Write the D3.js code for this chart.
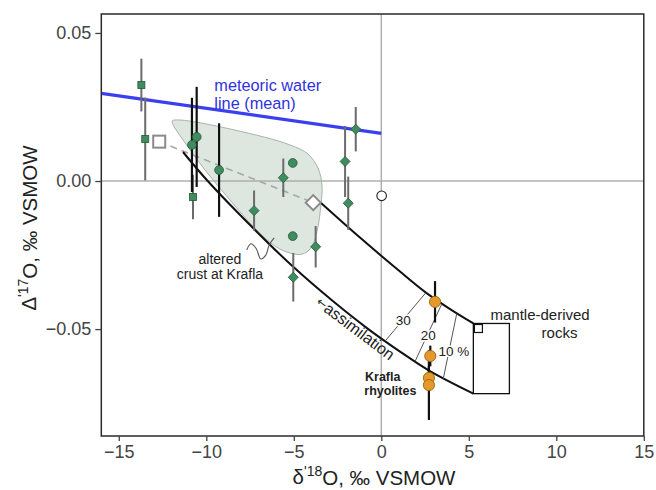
<!DOCTYPE html>
<html><head><meta charset="utf-8">
<script src="https://cdn.jsdelivr.net/npm/d3@7"></script>
<style>
html,body{margin:0;padding:0;background:#fff;}
svg{display:block;font-family:"Liberation Sans",Arial,Helvetica,sans-serif;}
</style></head>
<body><svg id="c" width="656" height="490"></svg>
<script>
// ---------- data (x = δ'18O ‰, y = Δ'17O ‰) ----------
const xDomain = [-16, 15];
const yDomain = [-0.0861, 0.0564];
const xTicks = [-15, -10, -5, 0, 5, 10, 15];
const yTicks = [-0.05, 0, 0.05];

// green circles with black error bars
const greenCircles = [
  {x:-10.82, y: 0.0122, e:0.0159},
  {x:-10.55, y: 0.0149, e:0.0169},
  {x: -9.27, y: 0.0037, e:0.0158},
  {x: -5.06, y: 0.0061, e:0},
  {x: -5.06, y:-0.0186, e:0}
];
// green diamonds with grey error bars
const greenDiamonds = [
  {x:-5.60, y: 0.0011, e:0.0065},
  {x:-7.27, y:-0.0100, e:0.0068},
  {x:-3.75, y:-0.0222, e:0.0070},
  {x:-5.03, y:-0.0325, e:0.0082},
  {x:-1.46, y: 0.0175, e:0.0075},
  {x:-2.07, y: 0.0066, e:0.0120},
  {x:-1.89, y:-0.0075, e:0.0090}
];
// green squares with grey error bars
const greenSquares = [
  {x:-13.71, y: 0.0324, e:0.0089},
  {x:-13.49, y: 0.0142, e:0.0140},
  {x:-10.76, y:-0.0054, e:0.0075}
];
// Krafla rhyolites (orange)
const rhyolites = [
  {x:3.07, y:-0.0408, e:0.0070},
  {x:2.80, y:-0.0591, e:0.0035},
  {x:2.72, y:-0.0665, e:0.0040},
  {x:2.72, y:-0.0689, e:0.0118}
];
const openCircle = [{x:0.02, y:-0.0050}];
const endSquare = [{x:-12.69, y:0.0133}];
const endDiamond = [{x:-3.89, y:-0.0073}];
const mantleSquare = [{x:5.55, y:-0.0498}];
const mantleBox = {x0:5.26, x1:7.32, y0:-0.0718, y1:-0.0481};

const meteoricLine = [{x:-16, y:0.0296}, {x:0, y:0.0161}];

const alteredCrust = [
  [-11.95,0.0203],[-11.5,0.0206],[-8.36,0.0172],[-5.22,0.0122],[-4.19,0.0091],
  [-3.62,0.0044],[-3.39,-0.0014],[-3.45,-0.0081],[-3.68,-0.0172],[-4.02,-0.0226],
  [-4.53,-0.0247],[-5.22,-0.0243],[-6.07,-0.0220],[-7.22,-0.0159],[-8.65,-0.0064],
  [-10.07,0.0037],[-11.33,0.0139],[-11.89,0.0189]
];

const upperMixing = [
  [-3.46,-0.00733],[-1.22,-0.01909],[1.07,-0.03057],[2.55,-0.03767],[3.93,-0.04324],[5.26,-0.04807]
];
const lowerMixing = [
  [-11.33,0.0098],[-9.97,0.00034],[-7.50,-0.01486],[-5.05,-0.02889],[-2.77,-0.04054],
  [-0.82,-0.04966],[1.07,-0.0576],[2.78,-0.0642],[5.26,-0.0718]
];
const tieLines = [
  {label:"30",   a:[2.55,-0.0377], b:[0.21,-0.0541], lx:1.26, ly:-0.0470},
  {label:"20",   a:[3.45,-0.0416], b:[1.93,-0.0609], lx:2.69, ly:-0.0520},
  {label:"10 %", a:[4.31,-0.0448], b:[3.54,-0.0668], lx:4.15, ly:-0.0574}
];
const squiggle = [
  [-7.69,-0.0233],[-7.45,-0.0212],[-7.15,-0.0228],[-6.89,-0.0263],
  [-6.60,-0.0250],[-6.40,-0.0215],[-6.12,-0.0192]
];

// ---------- drawing ----------
const svg = d3.select("#c");
const x = d3.scaleLinear().domain(xDomain).range([101.3, 643.8]);
const y = d3.scaleLinear().domain(yDomain).range([436, 14]);

const green = "#3f8d5e", greenStroke = "#24583a";
const orange = "#e39a2a", orangeStroke = "#9a6412";

svg.append("rect").attr("width",656).attr("height",490).attr("fill","#fff");

// altered crust field
svg.append("path")
  .datum(alteredCrust)
  .attr("d", d3.line().x(d=>x(d[0])).y(d=>y(d[1])).curve(d3.curveCatmullRomClosed.alpha(0.5)))
  .attr("fill","#dde7df").attr("stroke","#a9b2ab").attr("stroke-width",1);

// zero lines
svg.append("line").attr("x1",x(xDomain[0])).attr("x2",x(xDomain[1]))
  .attr("y1",y(0)).attr("y2",y(0)).attr("stroke","#a8a8a8").attr("stroke-width",1.5).attr("opacity",0.9);
svg.append("line").attr("x1",x(0)).attr("x2",x(0))
  .attr("y1",y(yDomain[0])).attr("y2",y(yDomain[1])).attr("stroke","#a8a8a8").attr("stroke-width",1.5).attr("opacity",0.9);

// meteoric water line
svg.append("line")
  .attr("x1",x(meteoricLine[0].x)).attr("y1",y(meteoricLine[0].y))
  .attr("x2",x(meteoricLine[1].x)).attr("y2",y(meteoricLine[1].y))
  .attr("stroke","#3c3ff0").attr("stroke-width",3.2);

// dashed line between end members
svg.append("line")
  .attr("x1",x(endSquare[0].x)).attr("y1",y(endSquare[0].y))
  .attr("x2",x(endDiamond[0].x)).attr("y2",y(endDiamond[0].y))
  .attr("stroke","#a8a8a8").attr("stroke-width",1.6).attr("stroke-dasharray","7,5");

// mixing curves
const mixLine = d3.line().x(d=>x(d[0])).y(d=>y(d[1])).curve(d3.curveCatmullRom.alpha(0.5));
[upperMixing, lowerMixing].forEach(c=>{
  svg.append("path").datum(c).attr("d",mixLine).attr("fill","none")
    .attr("stroke","#111").attr("stroke-width",2);
});

// tie lines
tieLines.forEach(t=>{
  svg.append("line").attr("x1",x(t.a[0])).attr("y1",y(t.a[1]))
    .attr("x2",x(t.b[0])).attr("y2",y(t.b[1]))
    .attr("stroke","#555").attr("stroke-width",1);
  svg.append("text").attr("x",x(t.lx)).attr("y",y(t.ly)).attr("dy","0.35em")
    .attr("text-anchor","middle").attr("font-size",13.5).attr("fill","#222")
    .attr("stroke","#fff").attr("stroke-width",3).attr("paint-order","stroke")
    .text(t.label);
});

// mantle box
svg.append("rect")
  .attr("x",x(mantleBox.x0)).attr("y",y(mantleBox.y1))
  .attr("width",x(mantleBox.x1)-x(mantleBox.x0))
  .attr("height",y(mantleBox.y0)-y(mantleBox.y1))
  .attr("fill","#fff").attr("stroke","#111").attr("stroke-width",1.3);

// squiggle
svg.append("path").datum(squiggle)
  .attr("d", d3.line().x(d=>x(d[0])).y(d=>y(d[1])).curve(d3.curveCatmullRom))
  .attr("fill","none").attr("stroke","#555").attr("stroke-width",1.1);

// error bars
function bars(data, color, w){
  svg.append("g").selectAll("line").data(data.filter(d=>d.e>0)).join("line")
    .attr("x1",d=>x(d.x)).attr("x2",d=>x(d.x))
    .attr("y1",d=>y(d.y+d.e)).attr("y2",d=>y(d.y-d.e))
    .attr("stroke",color).attr("stroke-width",w);
}
bars(greenSquares, "#6b6b6b", 2);
bars(greenDiamonds, "#6b6b6b", 2);
bars(greenCircles, "#111", 2.2);
bars(rhyolites, "#111", 2.2);

// markers
svg.append("g").selectAll("rect").data(greenSquares).join("rect")
  .attr("x",d=>x(d.x)-3.5).attr("y",d=>y(d.y)-3.5).attr("width",7).attr("height",7)
  .attr("fill",green).attr("stroke",greenStroke).attr("stroke-width",0.8);
const diamondPath = (cx,cy,r)=>`M${cx},${cy-r}L${cx+r},${cy}L${cx},${cy+r}L${cx-r},${cy}Z`;
svg.append("g").selectAll("path").data(greenDiamonds).join("path")
  .attr("d",d=>diamondPath(x(d.x),y(d.y),5))
  .attr("fill",green).attr("stroke",greenStroke).attr("stroke-width",0.8);
svg.append("g").selectAll("circle").data(greenCircles).join("circle")
  .attr("cx",d=>x(d.x)).attr("cy",d=>y(d.y)).attr("r",4.4)
  .attr("fill",green).attr("stroke",greenStroke).attr("stroke-width",0.8);
svg.append("g").selectAll("circle").data(rhyolites).join("circle")
  .attr("cx",d=>x(d.x)).attr("cy",d=>y(d.y)).attr("r",5.6)
  .attr("fill",orange).attr("stroke",orangeStroke).attr("stroke-width",0.9);
svg.append("g").selectAll("circle").data(openCircle).join("circle")
  .attr("cx",d=>x(d.x)).attr("cy",d=>y(d.y)).attr("r",4.8)
  .attr("fill","#fff").attr("stroke","#222").attr("stroke-width",1.1);
svg.append("g").selectAll("rect").data(endSquare).join("rect")
  .attr("x",d=>x(d.x)-6).attr("y",d=>y(d.y)-6).attr("width",12).attr("height",12)
  .attr("fill","#fff").attr("stroke","#8a8a8a").attr("stroke-width",2);
svg.append("g").selectAll("path").data(endDiamond).join("path")
  .attr("d",d=>diamondPath(x(d.x),y(d.y),7.5))
  .attr("fill","#fff").attr("stroke","#8a8a8a").attr("stroke-width",2);
svg.append("g").selectAll("rect").data(mantleSquare).join("rect")
  .attr("x",d=>x(d.x)-4).attr("y",d=>y(d.y)-4).attr("width",8).attr("height",8)
  .attr("fill","#fff").attr("stroke","#111").attr("stroke-width",1.2);

// annotations
const blue = "#2f33dd";
svg.append("text").attr("x",x(-9.54)).attr("y",90.5).attr("font-size",16.3).attr("fill",blue).text("meteoric water");
svg.append("text").attr("x",x(-9.54)).attr("y",108.5).attr("font-size",16.3).attr("fill",blue).text("line (mean)");

svg.append("text").attr("x",x(-9.22)).attr("y",y(-0.0280)).attr("text-anchor","middle")
  .attr("font-size",14).attr("fill","#222").text("altered");
svg.append("text").attr("x",x(-9.22)).attr("y",y(-0.0331)).attr("text-anchor","middle")
  .attr("font-size",14).attr("fill","#222").text("crust at Krafla");

svg.append("text").attr("x",x(6.24)).attr("y",y(-0.0470)).attr("font-size",15).attr("fill","#222").text("mantle-derived");
svg.append("text").attr("x",x(9.16)).attr("y",y(-0.0529)).attr("font-size",15).attr("fill","#222").text("rocks");

svg.append("text").attr("x",x(-0.93)).attr("y",y(-0.0676)).attr("font-size",12.5).attr("font-weight","bold").attr("fill","#222").text("Krafla");
svg.append("text").attr("x",x(-0.97)).attr("y",y(-0.0723)).attr("font-size",12.5).attr("font-weight","bold").attr("fill","#222").text("rhyolites");

const assim = svg.append("text")
  .attr("transform",`translate(${x(-1.68)},${y(-0.0513)}) rotate(37)`)
  .attr("text-anchor","middle").attr("dy","0.35em").attr("font-size",16).attr("fill","#222");
assim.append("tspan").attr("font-size",12).attr("font-family","'DejaVu Sans',sans-serif").attr("dy","-0.15em").text("←");
assim.append("tspan").attr("dy","0.1em").text("assimilation");

// frame
svg.append("rect").attr("x",x(xDomain[0])).attr("y",y(yDomain[1]))
  .attr("width",x(xDomain[1])-x(xDomain[0])).attr("height",y(yDomain[0])-y(yDomain[1]))
  .attr("fill","none").attr("stroke","#2a2a2a").attr("stroke-width",1.5);

// axes
const xAxis = svg.append("g").attr("transform",`translate(0,${y(yDomain[0])})`)
  .call(d3.axisBottom(x).tickValues(xTicks).tickFormat(d3.format("d")).tickSize(5).tickSizeOuter(0).tickPadding(4));
const yAxis = svg.append("g").attr("transform",`translate(${x(xDomain[0])},0)`)
  .call(d3.axisLeft(y).tickValues(yTicks).tickFormat(d3.format(".2f")).tickSize(6).tickSizeOuter(0).tickPadding(4));
[xAxis,yAxis].forEach(a=>{
  a.select(".domain").remove();
  a.selectAll(".tick line").attr("stroke","#444").attr("stroke-width",1.3);
  a.selectAll(".tick text").attr("fill","#444").attr("font-size",18)
    .attr("font-family","'Liberation Sans',Arial,sans-serif");
});

// axis titles
const xt = svg.append("text").attr("x",374).attr("y",484).attr("text-anchor","middle")
  .attr("font-size",20.5).attr("fill","#222");
xt.append("tspan").text("δ");
xt.append("tspan").attr("font-size",14).attr("dy","-0.55em").text("'18");
xt.append("tspan").attr("dy","0.4em").text("O, ‰ VSMOW");

const yt = svg.append("text").attr("transform","translate(36,228) rotate(-90)")
  .attr("text-anchor","middle").attr("font-size",20.5).attr("fill","#222");
yt.append("tspan").text("Δ");
yt.append("tspan").attr("font-size",14).attr("dy","-0.55em").text("'17");
yt.append("tspan").attr("dy","0.4em").text("O, ‰ VSMOW");
</script></body></html>
